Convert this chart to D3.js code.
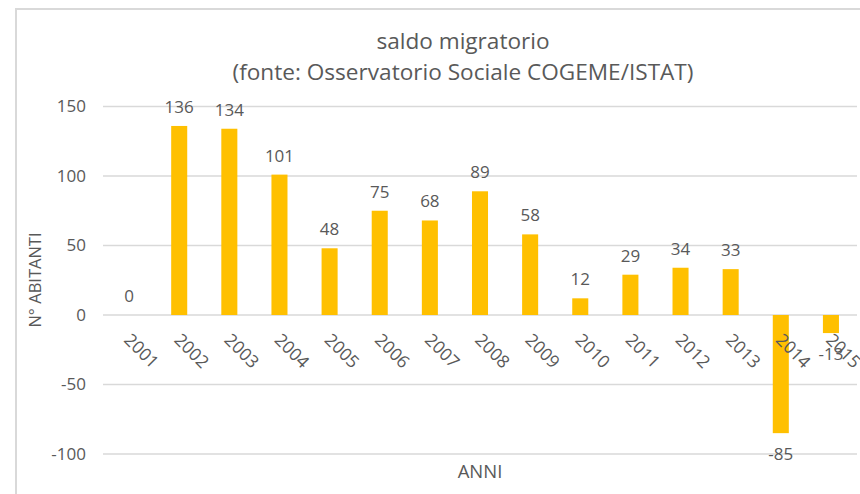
<!DOCTYPE html>
<html><head><meta charset="utf-8">
<script src="https://cdn.jsdelivr.net/npm/d3@7"></script>
<style>body{margin:0;background:#fff}svg{display:block}text{font-family:"Open Sans",sans-serif;fill:#595959}</style>
</head><body><svg id="c" width="860" height="494"></svg>
<script>
const years = ["2001","2002","2003","2004","2005","2006","2007","2008","2009","2010","2011","2012","2013","2014","2015"];
const saldo = [0,136,134,101,48,75,68,89,58,12,29,34,33,-85,-13];
const yTicks = [-100,-50,0,50,100,150];
const titleLines = ["saldo migratorio","(fonte: Osservatorio Sociale COGEME/ISTAT)"];

const svg = d3.select("#c");
// chart border
svg.append("path").attr("d","M16,494 V9 H860").attr("fill","none").attr("stroke","#d9d9d9").attr("stroke-width",2);

const x = d3.scaleBand().domain(years).range([104,856]).paddingInner(0.68).paddingOuter(0.34);
const y = d3.scaleLinear().domain([-100,150]).range([454,106.5]);

// gridlines
svg.append("g").selectAll("line").data(yTicks).join("line")
  .attr("x1",103).attr("x2",857).attr("y1",d=>y(d)).attr("y2",d=>y(d))
  .attr("stroke","#d9d9d9").attr("stroke-width",1.3);

// y axis labels
const yAxis = d3.axisLeft(y).tickValues(yTicks).tickSize(0).tickPadding(0).tickFormat(d=>String(d));
const ga = svg.append("g").attr("transform","translate(86,0)").call(yAxis);
ga.select(".domain").remove();
ga.selectAll("text").attr("font-size",17).attr("fill","#595959").attr("font-family","Open Sans");

// bars
const data = years.map((yr,i)=>({yr,v:saldo[i]}));
svg.append("g").selectAll("rect").data(data).join("rect")
  .attr("x",d=>x(d.yr)).attr("width",x.bandwidth())
  .attr("y",d=>y(Math.max(0,d.v))).attr("height",d=>Math.abs(y(d.v)-y(0)))
  .attr("fill","#ffc000");

// x tick labels rotated
svg.append("g").selectAll("text").data(years).join("text")
  .attr("transform",d=>`translate(${x(d)+x.bandwidth()/2-6},${y(0)+26}) rotate(45)`)
  .attr("font-size",17.5).text(d=>d);

// data labels
svg.append("g").selectAll("text").data(data).join("text")
  .attr("x",d=>x(d.yr)+x.bandwidth()/2)
  .attr("y",d=>d.v>=0 ? y(d.v)-13 : y(d.v)+27)
  .attr("text-anchor","middle").attr("font-size",17).text(d=>String(d.v));

// title
svg.append("g").selectAll("text").data(titleLines).join("text")
  .attr("x",463).attr("y",(d,i)=>49+i*31).attr("text-anchor","middle")
  .attr("font-size",22.6).text(d=>d);

// axis titles
svg.append("text").attr("transform","translate(41,280) rotate(-90)").attr("text-anchor","middle")
  .attr("font-size",16.5).text("N° ABITANTI");
svg.append("text").attr("x",480).attr("y",478).attr("text-anchor","middle")
  .attr("font-size",18.5).text("ANNI");
</script></body></html>
